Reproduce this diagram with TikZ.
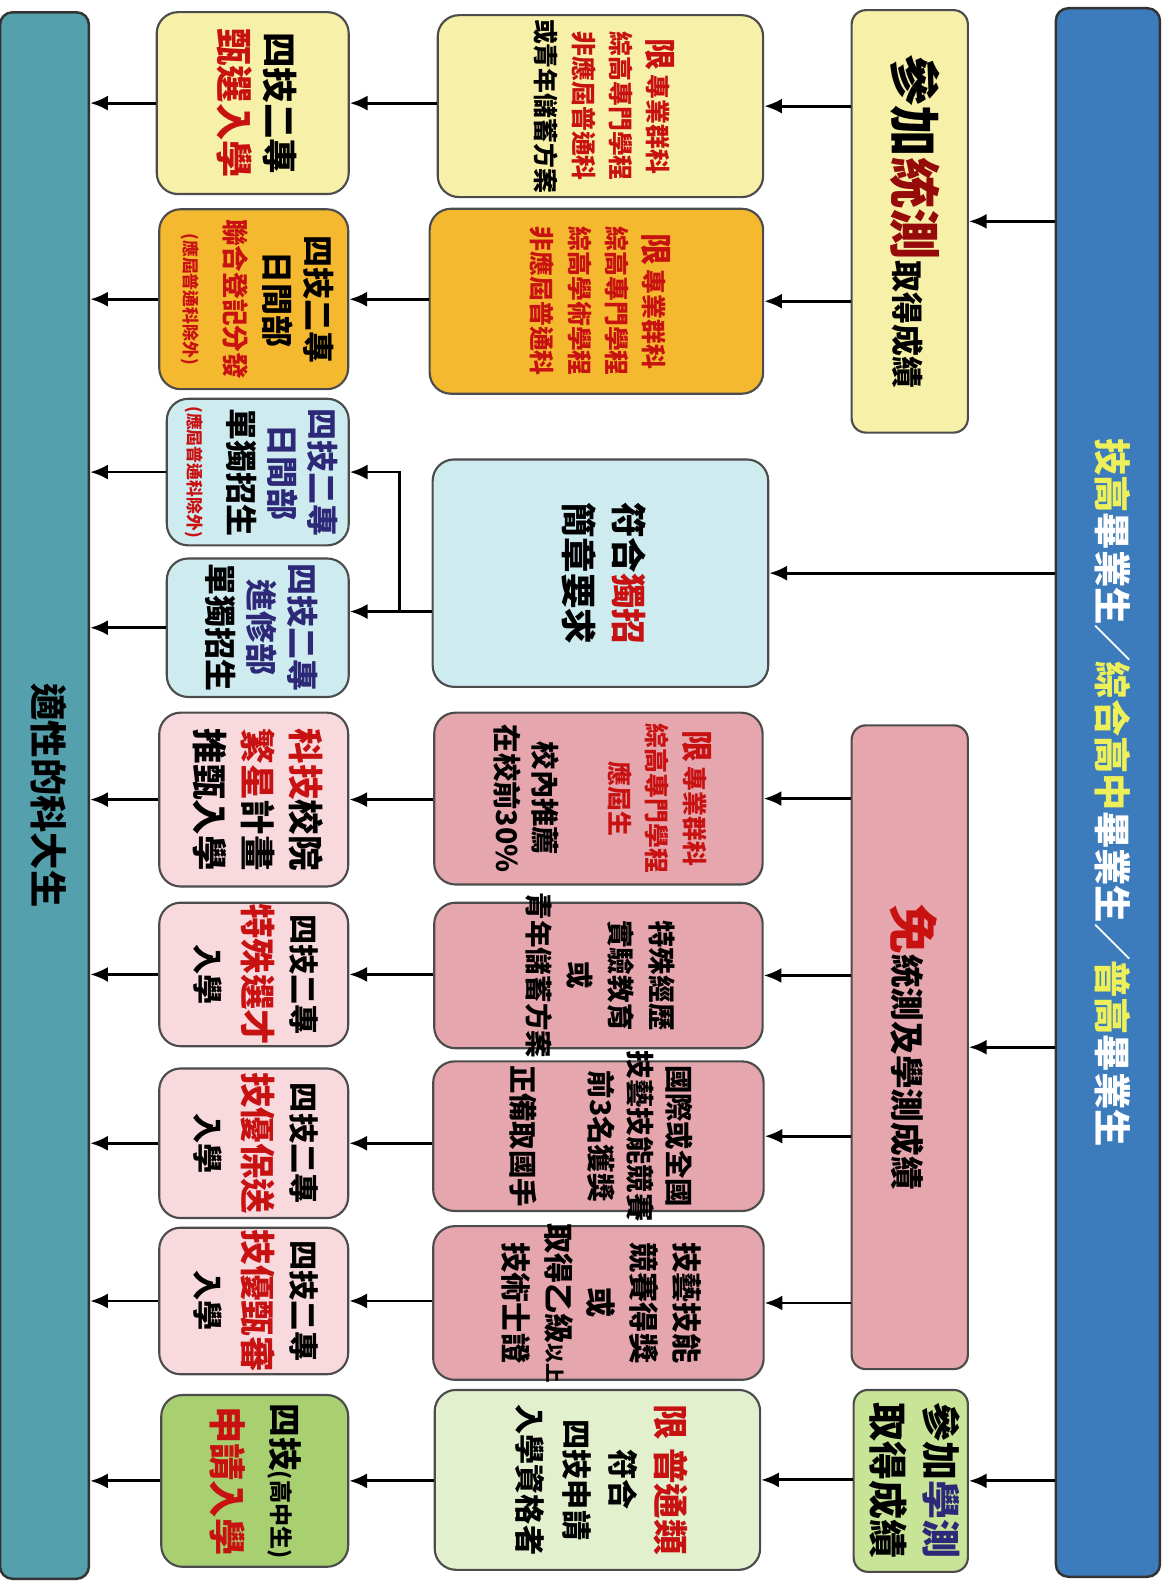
\documentclass[tikz,border=0pt]{standalone}
\usepackage{fontspec}
\setmainfont{Noto Sans CJK TC}
\usepackage{graphicx}
\usetikzlibrary{arrows.meta}

\definecolor{barblue}{RGB}{60,124,188}
\definecolor{barteal}{RGB}{84,160,172}
\definecolor{cyellow}{RGB}{246,240,168}
\definecolor{corange}{RGB}{245,185,48}
\definecolor{cice}{RGB}{206,236,240}
\definecolor{crose}{RGB}{230,166,174}
\definecolor{cblush}{RGB}{248,218,222}
\definecolor{cmint}{RGB}{226,240,206}
\definecolor{cleaf}{RGB}{200,228,150}
\definecolor{cgreen}{RGB}{168,208,112}
\definecolor{tred}{RGB}{200,18,18}
\definecolor{tdark}{RGB}{150,10,10}
\definecolor{tnavy}{RGB}{45,40,120}
\definecolor{tyellow}{RGB}{238,240,90}

% vertical (turned) text block: size, line skip, lines
\newcommand{\vlines}[3]{\rotatebox{-90}{\fontsize{#1}{#2}\selectfont\bfseries\begin{tabular}{@{}c@{}}#3\end{tabular}}}
\newcommand{\sz}[1]{\fontsize{#1}{#1}\selectfont}

\begin{document}
\begin{tikzpicture}[x=0.02cm, y=-0.02cm,
  box/.style={draw=black!70, line width=1.2pt, rounded corners=12pt, inner sep=0pt},
  bar/.style={draw=black!80, line width=1.4pt, rounded corners=7pt, inner sep=0pt},
  flow/.style={line width=1.6pt, -{Latex[length=10pt,width=8.5pt]}}]
\useasboundingbox (0,0) rectangle (1158,1568);

% start and goal
\node (grad) at (1096,784) [bar, fill=barblue, minimum width=2.06cm, minimum height=31.04cm,
  label=center:{\vlines{21}{24}{\color{tyellow}技高\color{white}畢業生／\color{tyellow}綜合高中\color{white}畢業生／\color{tyellow}普高\color{white}畢業生}}] {};
\node (goal) at (44,787) [bar, fill=barteal, minimum width=1.76cm, minimum height=31cm,
  label=center:{\vlines{21}{24}{適性的科大生}}] {};

% exam paths
\node (tong) at (900,219) [box, rounded corners=8pt, fill=cyellow, minimum width=2.3cm, minimum height=8.36cm,
  label=center:{\vlines{29}{30}{參加{\color{tdark}統測}{\sz{18}取得成績}}}] {};
\node (mian) at (900,1036) [box, rounded corners=8pt, fill=crose, minimum width=2.3cm, minimum height=12.74cm,
  label=center:{\vlines{19}{24}{{\sz{28}\color{tred}免}統測及學測成績}}] {};
\node (xue) at (901,1465) [box, rounded corners=8pt, fill=cleaf, minimum width=2.26cm, minimum height=3.6cm,
  label=center:{\vlines{22}{30}{參加{\color{tnavy}學測}\\取得成績}}] {};

% requirements
\node (req1) at (594,105) [box, fill=cyellow, minimum width=6.44cm, minimum height=3.6cm,
  label=center:{\vlines{14}{21}{\color{tred}{\sz{18}限}\,專業群科\\\color{tred}綜高專門學程\\\color{tred}非應屆普通科\\或青年儲蓄方案}}] {};
\node (req2) at (590,298) [box, fill=corange, minimum width=6.6cm, minimum height=3.66cm,
  label=center:{\vlines{14}{21}{\color{tred}{\sz{18}限}\,專業群科\\\color{tred}綜高專門學程\\\color{tred}綜高學術學程\\\color{tred}非應屆普通科}}] {};
\node (req3) at (594,567) [box, fill=cice, minimum width=6.64cm, minimum height=4.5cm,
  label=center:{\vlines{20}{28}{符合{\color{tred}獨招}\\簡章要求}}] {};
\node (req4) at (592,790) [box, fill=crose, minimum width=6.5cm, minimum height=3.4cm,
  label=center:{\vlines{14}{21}{\color{tred}{\sz{18}限}\,專業群科\\\color{tred}綜高專門學程\\\color{tred}應屆生\\[22pt]{\sz{16}校內推薦}\\{\sz{16}在校前30\%}}}] {};
\node (req5) at (592,965) [box, fill=crose, minimum width=6.5cm, minimum height=2.88cm,
  label=center:{\vlines{15.5}{23}{特殊經歷\\實驗教育\\或\\青年儲蓄方案}}] {};
\node (req6) at (592,1124) [box, fill=crose, minimum width=6.54cm, minimum height=2.96cm,
  label=center:{\vlines{16}{22}{國際或全國\\技藝技能競賽\\前3名獲獎\\[22pt]正備取國手}}] {};
\node (req7) at (592,1289) [box, fill=crose, minimum width=6.54cm, minimum height=3.04cm,
  label=center:{\vlines{17}{24}{技藝技能\\競賽得獎\\或\\取得乙級{\sz{11}以上}\\技術士證}}] {};
\node (req8) at (591,1464) [box, fill=cmint, minimum width=6.44cm, minimum height=3.56cm,
  label=center:{\vlines{17}{26}{\color{tred}{\sz{20}限\ 普通類}\\符合\\四技申請\\入學資格者}}] {};

% admission channels
\node (way1) at (250,102) [box, fill=cyellow, minimum width=3.8cm, minimum height=3.6cm,
  label=center:{\vlines{20}{26}{四技二專\\{\sz{21}\color{tred}甄選入學}}}] {};
\node (way2) at (251,296) [box, fill=corange, minimum width=3.74cm, minimum height=3.56cm,
  label=center:{\vlines{18}{23}{四技二專\\日間部\\{\sz{15}\color{tred}聯合登記分發}\\{\sz{9.5}\color{tred}(應屆普通科除外)}}}] {};
\node (way3) at (255,467) [box, fill=cice, minimum width=3.6cm, minimum height=2.9cm,
  label=center:{\vlines{18}{23}{\color{tnavy}四技二專\\\color{tnavy}日間部\\單獨招生\\{\sz{9.5}\color{tred}(應屆普通科除外)}}}] {};
\node (way4) at (255,621) [box, fill=cice, minimum width=3.6cm, minimum height=2.74cm,
  label=center:{\vlines{18}{23}{\color{tnavy}四技二專\\\color{tnavy}進修部\\單獨招生}}] {};
\node (way5) at (251,791) [box, fill=cblush, minimum width=3.74cm, minimum height=3.44cm,
  label=center:{\vlines{20}{27}{{\color{tred}科技}校院\\{\color{tred}繁星}計畫\\推甄入學}}] {};
\node (way6) at (251,964) [box, fill=cblush, minimum width=3.74cm, minimum height=2.84cm,
  label=center:{\vlines{17}{27}{四技二專\\{\sz{20}\color{tred}特殊選才}\\入學}}] {};
\node (way7) at (251,1131) [box, fill=cblush, minimum width=3.74cm, minimum height=2.96cm,
  label=center:{\vlines{17}{27}{四技二專\\{\sz{20}\color{tred}技優保送}\\入學}}] {};
\node (way8) at (251,1287) [box, fill=cblush, minimum width=3.74cm, minimum height=2.9cm,
  label=center:{\vlines{17}{27}{四技二專\\{\sz{20}\color{tred}技優甄審}\\入學}}] {};
\node (way9) at (252,1465) [box, fill=cgreen, minimum width=3.7cm, minimum height=3.4cm,
  label=center:{\vlines{19}{33}{四技{\sz{13}(高中生)}\\{\sz{21}\color{tred}申請入學}}}] {};

\coordinate (fork) at (395,605);

\draw[flow] (grad.west |- tong) -- (tong.east);
\draw[flow] (grad.west |- req3) -- (req3.east);
\draw[flow] (grad.west |- mian) -- (mian.east);
\draw[flow] (grad.west |- xue) -- (xue.east);

\draw[flow] (tong.west |- req1) -- (req1.east);
\draw[flow] (tong.west |- req2) -- (req2.east);
\draw[flow] (mian.west |- req4) -- (req4.east);
\draw[flow] (mian.west |- req5) -- (req5.east);
\draw[flow] (mian.west |- req6) -- (req6.east);
\draw[flow] (mian.west |- req7) -- (req7.east);
\draw[flow] (xue.west |- req8) -- (req8.east);

\draw[flow] (req1.west |- way1) -- (way1.east);
\draw[flow] (req2.west |- way2) -- (way2.east);
\draw[flow] (req3.west |- fork) -- (way4.east |- fork);
\draw[flow] (fork) |- (way3.east);
\draw[flow] (req4.west |- way5) -- (way5.east);
\draw[flow] (req5.west |- way6) -- (way6.east);
\draw[flow] (req6.west |- way7) -- (way7.east);
\draw[flow] (req7.west |- way8) -- (way8.east);
\draw[flow] (req8.west |- way9) -- (way9.east);

\draw[flow] (way1.west) -- (goal.east |- way1);
\draw[flow] (way2.west) -- (goal.east |- way2);
\draw[flow] (way3.west) -- (goal.east |- way3);
\draw[flow] (way4.west) -- (goal.east |- way4);
\draw[flow] (way5.west) -- (goal.east |- way5);
\draw[flow] (way6.west) -- (goal.east |- way6);
\draw[flow] (way7.west) -- (goal.east |- way7);
\draw[flow] (way8.west) -- (goal.east |- way8);
\draw[flow] (way9.west) -- (goal.east |- way9);
\end{tikzpicture}
\end{document}
